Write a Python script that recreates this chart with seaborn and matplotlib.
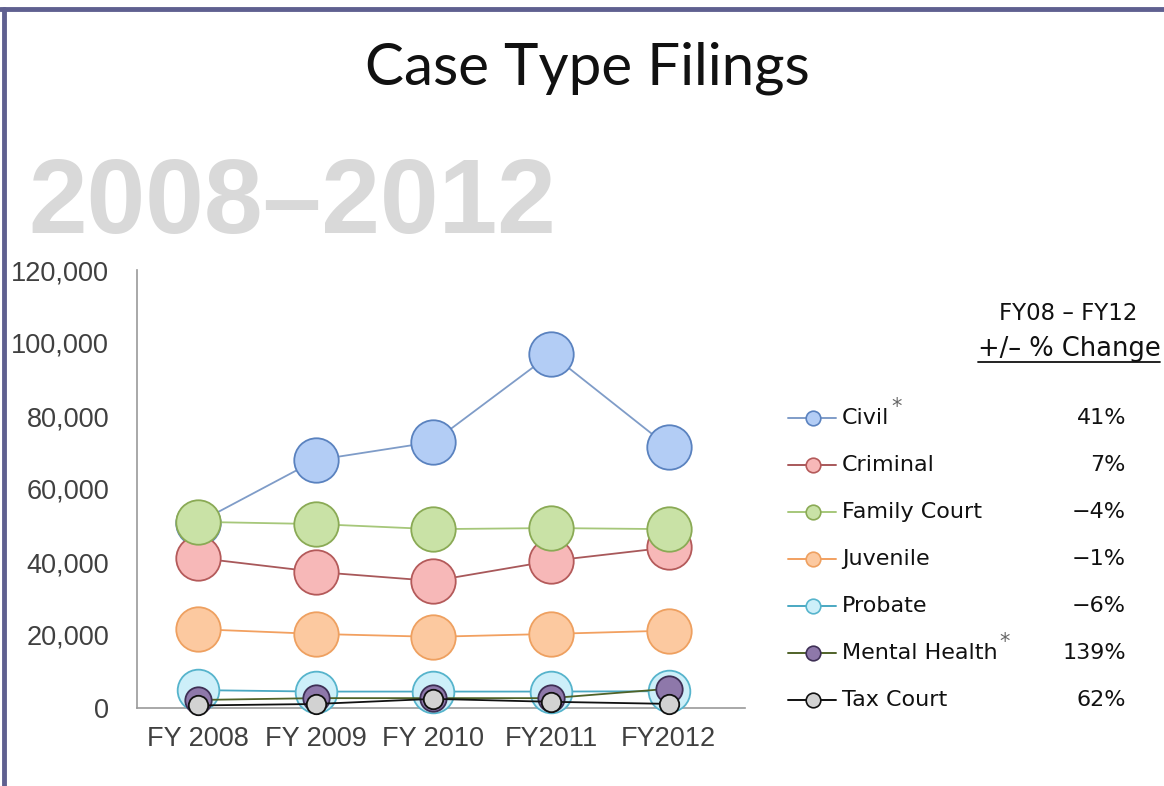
import matplotlib
matplotlib.use("Agg")
import matplotlib.pyplot as plt
from matplotlib.lines import Line2D
import seaborn as sns
import pandas as pd

years = ["FY 2008", "FY 2009", "FY 2010", "FY2011", "FY2012"]
civil = [50800, 67900, 72900, 97000, 71500]
criminal = [41100, 37300, 34800, 40300, 44000]
family_court = [51000, 50400, 49000, 49300, 49000]
juvenile = [21600, 20300, 19500, 20300, 21200]
probate = [4900, 4500, 4500, 4500, 4600]
mental_health = [2200, 2700, 2700, 2700, 5260]
tax_court = [700, 1100, 2500, 1700, 1130]

series_names = ["Civil", "Criminal", "Family Court", "Juvenile", "Probate", "Mental Health", "Tax Court"]
series_values = [civil, criminal, family_court, juvenile, probate, mental_health, tax_court]
pct_change = ["41%", "7%", "\u22124%", "\u22121%", "\u22126%", "139%", "62%"]
starred = ["Civil", "Mental Health"]
yticks = [0, 20000, 40000, 60000, 80000, 100000, 120000]

styles = {
    "Civil":         dict(line="#7f9cc8", face="#b3cdf5", edge="#5a82bf", ms=32, lw=1.3),
    "Criminal":      dict(line="#a8585a", face="#f7b8b8", edge="#b45a5a", ms=32, lw=1.3),
    "Family Court":  dict(line="#a6c77a", face="#c9e2a6", edge="#8aaa55", ms=32, lw=1.3),
    "Juvenile":      dict(line="#f2a060", face="#fcc9a0", edge="#eea060", ms=32, lw=1.3),
    "Probate":       dict(line="#4aa8c2", face="#cdeff9", edge="#56b4cc", ms=30, lw=1.3),
    "Mental Health": dict(line="#4f6228", face="#8e78aa", edge="#3e2f55", ms=19, lw=1.3),
    "Tax Court":     dict(line="#111111", face="#d2d2d2", edge="#111111", ms=14, lw=1.3),
}

rows = []
for name, vals in zip(series_names, series_values):
    for i, (yr, v) in enumerate(zip(years, vals)):
        rows.append({"series": name, "year": yr, "xpos": i, "value": v})
df = pd.DataFrame(rows)

sns.set_theme(style="white")
plt.rcParams["font.family"] = ["DejaVu Sans"]

W, H = 1164, 786
fig = plt.figure(figsize=(W / 100, H / 100), dpi=100)
fig.patch.set_facecolor("white")

def fx(x):
    return x / W

def fy(y):
    return 1 - y / H

ax = fig.add_axes([fx(137), fy(708), fx(745) - fx(137), fy(270) - fy(708)])
ax.set_facecolor("none")

for z, name in enumerate(series_names):
    st = styles[name]
    sub = df[df["series"] == name]
    sns.lineplot(data=sub, x="xpos", y="value", ax=ax, color=st["line"], lw=st["lw"],
                 marker="o", markersize=st["ms"], markerfacecolor=st["face"],
                 markeredgecolor=st["edge"], markeredgewidth=1.3, zorder=3 + z,
                 legend=False, clip_on=False)

ax.set_xlim(-0.52, 4.65)
ax.set_ylim(0, 120000)
ax.set_xticks(range(len(years)))
ax.set_xticklabels(years)
ax.set_yticks(yticks)
ax.set_yticklabels([f"{v:,}" for v in yticks])
ax.set_xlabel("")
ax.set_ylabel("")
for side in ["top", "right"]:
    ax.spines[side].set_visible(False)
for side in ["left", "bottom"]:
    ax.spines[side].set_color("#9a9a9a")
    ax.spines[side].set_linewidth(1.2)
ax.tick_params(axis="both", length=0, labelcolor="#404040")
ax.tick_params(axis="y", pad=20)
ax.tick_params(axis="x", pad=13)
for lab in ax.get_xticklabels() + ax.get_yticklabels():
    lab.set_fontfamily(["Liberation Sans", "DejaVu Sans"])
    lab.set_fontsize(19.5)

# big background year range
fig.text(fx(28), fy(206), "2008\u20132012", fontsize=76, fontweight="bold",
         color="#d9d9d9", ha="left", va="center", family=["Liberation Sans", "DejaVu Sans"], zorder=0)

# title
fig.text(fx(587), fy(68), "Case Type Filings", fontsize=42, color="#111111", fontweight="normal",
         ha="center", va="center", family=["Lato", "DejaVu Sans"])

# change header
fig.text(fx(1068), fy(313), "FY08 \u2013 FY12", fontsize=16.5, color="#111111",
         ha="center", va="center", family=["DejaVu Sans"])
fig.text(fx(1069), fy(349), "+/\u2013 % Change", fontsize=18.5, color="#111111",
         ha="center", va="center", family=["DejaVu Sans"])
fig.add_artist(Line2D([fx(978), fx(1160)], [fy(362), fy(362)], color="#111111", lw=1.3,
                      transform=fig.transFigure))

# legend rows
row_y = [418, 465, 512, 559, 606, 653, 700]
label_texts = {}
for name, pct, yy in zip(series_names, pct_change, row_y):
    st = styles[name]
    fig.add_artist(Line2D([fx(788), fx(836)], [fy(yy), fy(yy)], color=st["line"], lw=1.4,
                          transform=fig.transFigure))
    fig.add_artist(Line2D([fx(813)], [fy(yy)], marker="o", markersize=10.5,
                          markerfacecolor=st["face"], markeredgecolor=st["edge"],
                          markeredgewidth=1.2, transform=fig.transFigure))
    label_texts[name] = fig.text(fx(842), fy(yy), name, fontsize=16, color="#111111",
                                 ha="left", va="center", family=["DejaVu Sans"])
    fig.text(fx(1126), fy(yy), pct, fontsize=16, color="#111111", ha="right", va="center",
             family=["DejaVu Sans"])

fig.canvas.draw()
renderer = fig.canvas.get_renderer()
for name in starred:
    bb = label_texts[name].get_window_extent(renderer)
    fig.text((bb.x1 + 2) / W, (bb.y1 + 1) / H, "*", fontsize=15, color="#666666",
             ha="left", va="center", family=["DejaVu Sans"])

# slide border
fig.add_artist(Line2D([0, 1], [fy(9), fy(9)], color="#5f6090", lw=3.5, transform=fig.transFigure))
fig.add_artist(Line2D([fx(4), fx(4)], [0, fy(9)], color="#5f6090", lw=3.5, transform=fig.transFigure))

fig.savefig("out.png", dpi=100, facecolor="white")
